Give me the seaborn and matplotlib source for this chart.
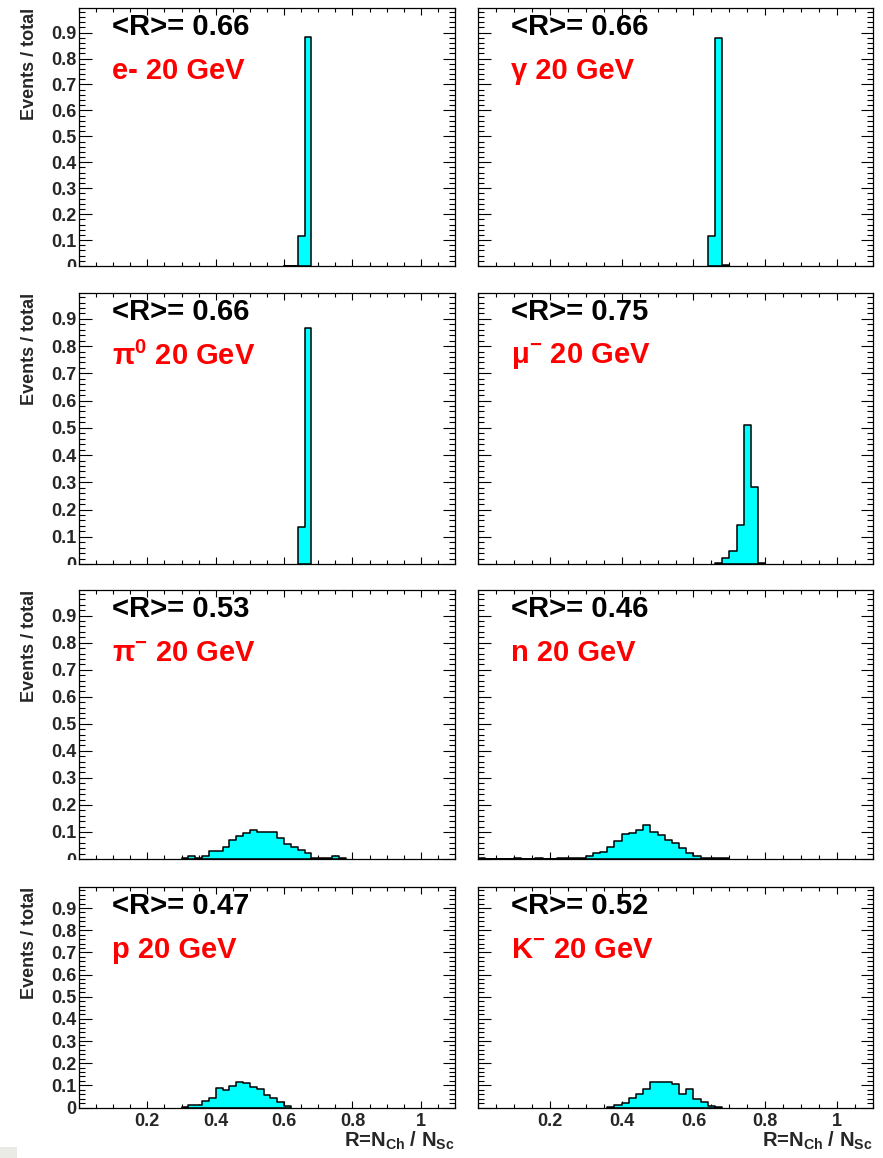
import numpy as np
import pandas as pd
import seaborn as sns
import matplotlib
matplotlib.use("Agg")
import matplotlib.pyplot as plt
from matplotlib.patches import Rectangle
from matplotlib.ticker import MultipleLocator, FixedLocator, NullFormatter
from matplotlib.transforms import Bbox, TransformedBbox

# ---------------- data ----------------
BIN_WIDTH = 0.02

particles = ["e- 20 GeV", "\u03b3 20 GeV", "\u03c0$^\\mathregular{0}$ 20 GeV",
             "\u03bc$^\\mathregular{-}$ 20 GeV", "\u03c0$^\\mathregular{-}$ 20 GeV",
             "n 20 GeV", "p 20 GeV", "K$^\\mathregular{-}$ 20 GeV"]
mean_R = [0.66, 0.66, 0.66, 0.75, 0.53, 0.46, 0.47, 0.52]

# first bin lower edge of each histogram
e_start, g_start, pi0_start, mu_start = 0.60, 0.64, 0.64, 0.66
pim_start, n_start, p_start, k_start = 0.30, 0.00, 0.30, 0.36

e_vals = [0.0015, 0.0015, 0.115, 0.885]
g_vals = [0.116, 0.880, 0.003]
pi0_vals = [0.135, 0.865]
mu_vals = [0.005, 0.021, 0.049, 0.142, 0.509, 0.283, 0.003]
pim_vals = [0.004, 0.010, 0.004, 0.010, 0.028, 0.028, 0.045, 0.072, 0.084, 0.097,
            0.107, 0.100, 0.100, 0.100, 0.078, 0.056, 0.045, 0.035, 0.022, 0.004,
            0.004, 0.004, 0.010, 0.004]
n_vals = [0.005, 0, 0, 0, 0, 0.004, 0, 0, 0.004, 0, 0, 0.004, 0.004, 0.004, 0.004,
          0.012, 0.022, 0.025, 0.043, 0.067, 0.092, 0.098, 0.108, 0.124, 0.099,
          0.087, 0.071, 0.061, 0.040, 0.021, 0.012, 0.0025, 0.0025, 0.0025, 0.0025]
p_vals = [0.003, 0.012, 0.012, 0.029, 0.043, 0.086, 0.079, 0.097, 0.116, 0.110,
          0.094, 0.082, 0.058, 0.045, 0.024, 0.005]
k_vals = [0.003, 0.012, 0.021, 0.043, 0.060, 0.082, 0.116, 0.116, 0.116, 0.105,
          0.063, 0.082, 0.040, 0.024, 0.006, 0.002]

starts = [e_start, g_start, pi0_start, mu_start, pim_start, n_start, p_start, k_start]
values = [e_vals, g_vals, pi0_vals, mu_vals, pim_vals, n_vals, p_vals, k_vals]

y_major = [0, 0.1, 0.2, 0.3, 0.4, 0.5, 0.6, 0.7, 0.8, 0.9]
y_labels = ["0", "0.1", "0.2", "0.3", "0.4", "0.5", "0.6", "0.7", "0.8", "0.9"]
x_major = [0.2, 0.4, 0.6, 0.8, 1.0]
x_labels = ["0.2", "0.4", "0.6", "0.8", "1"]

# ---------------- style ----------------
sns.set_style("ticks")
plt.rcParams["font.family"] = ["Liberation Sans", "DejaVu Sans"]
plt.rcParams["font.weight"] = "bold"
plt.rcParams["axes.linewidth"] = 0.9

W, H = 883, 1158
fig = plt.figure(figsize=(W / 100, H / 100), dpi=100)

cols = [(79, 455), (478, 873)]
rows = [(8, 266), (293, 564), (590, 859), (887, 1107.5)]

FILL = "#00ffff"

for i in range(8):
    r, c = divmod(i, 2)
    (x0, x1), (y0, y1) = cols[c], rows[r]
    ax = fig.add_axes([x0 / W, 1 - y1 / H, (x1 - x0) / W, (y1 - y0) / H])

    vals = np.asarray(values[i], dtype=float)
    edges = [float(v) for v in starts[i] + BIN_WIDTH * np.arange(len(vals) + 1)]
    centers = np.asarray(edges[:-1]) + BIN_WIDTH / 2
    sns.histplot(x=centers, weights=vals, bins=edges, element="step",
                 fill=True, color=FILL, alpha=1, edgecolor="black",
                 linewidth=1.1, ax=ax)

    ax.set_xlim(0, 1.1)
    ax.set_ylim(0, 0.995)
    ax.set_xlabel("")
    ax.set_ylabel("")
    for s in ax.spines.values():
        s.set_visible(True)
        s.set_linewidth(0.9)
        s.set_color("black")
        s.set_zorder(5)

    ax.xaxis.set_major_locator(FixedLocator(x_major))
    ax.xaxis.set_minor_locator(MultipleLocator(0.05))
    ax.yaxis.set_major_locator(FixedLocator(y_major))
    ax.yaxis.set_minor_locator(MultipleLocator(0.02))
    ax.tick_params(axis="both", which="both", direction="in", top=True, right=True,
                   color="black", width=0.8)
    ax.tick_params(axis="y", which="major", length=9, pad=2, labelsize=13)
    ax.tick_params(axis="y", which="minor", length=4.5)
    ax.tick_params(axis="x", which="major", length=5.2, pad=4, labelsize=13)
    ax.tick_params(axis="x", which="minor", length=3.2)

    if c == 0:
        ax.set_yticks(y_major)
        ax.set_yticklabels(y_labels, fontweight="bold")
        ax.annotate("Events / total", xy=(0, 1), xycoords="axes fraction",
                    xytext=(-49, 0), textcoords="offset pixels", rotation=90,
                    ha="center", va="top", fontsize=13, fontweight="bold")
        if r < 3:
            clip_y = 1 - (y1 + 1) / H
            for tk in ax.yaxis.get_major_ticks():
                if tk.label1.get_text() == "0":
                    tk.label1.set_clip_box(TransformedBbox(Bbox([[0, clip_y], [1, 1]]),
                                                           fig.transFigure))
                    tk.label1.set_clip_on(True)
    else:
        ax.yaxis.set_major_formatter(NullFormatter())

    if r == 3:
        ax.set_xticks(x_major)
        ax.set_xticklabels(x_labels, fontweight="bold")
        ax.annotate(r"R=N$_\mathregular{Ch}$ / N$_\mathregular{Sc}$", xy=(1, 0),
                    xycoords="axes fraction", xytext=(0, -33),
                    textcoords="offset pixels", ha="right", va="center",
                    fontsize=14.5, fontweight="bold")
    else:
        ax.xaxis.set_major_formatter(NullFormatter())

    ax.annotate(f"<R>= {mean_R[i]:.2f}", xy=(0, 1), xycoords="axes fraction",
                xytext=(33, -19), textcoords="offset pixels", ha="left",
                va="center", fontsize=21, fontweight="bold", color="black")
    ax.annotate(particles[i], xy=(0, 1), xycoords="axes fraction",
                xytext=(33, -63), textcoords="offset pixels", ha="left",
                va="center", fontsize=21, fontweight="bold", color="#ff0000")

# small grey patch in the bottom-left corner of the reference image
fig.patches.append(Rectangle((0, 0), 17 / W, 11 / H, transform=fig.transFigure,
                             facecolor="#ebebe6", edgecolor="none", zorder=0))

fig.savefig("out.png", dpi=100)
